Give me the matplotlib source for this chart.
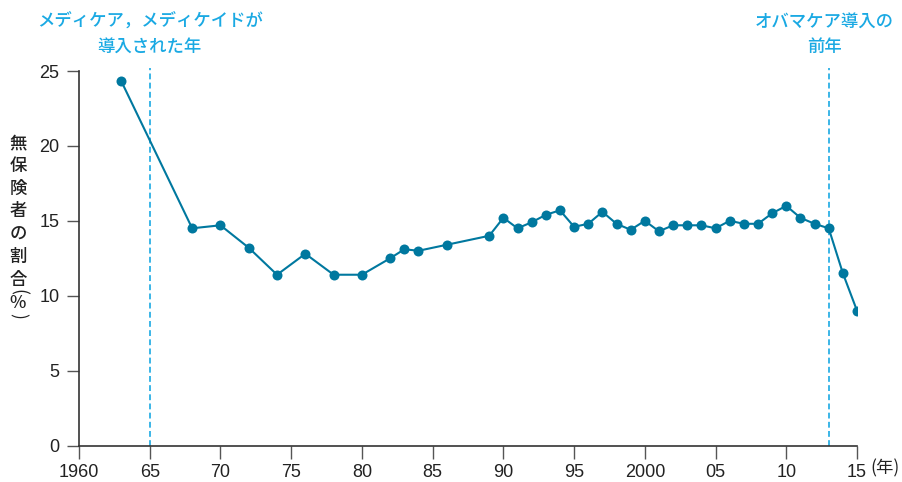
import matplotlib
matplotlib.use("Agg")
import matplotlib.pyplot as plt

plt.rcParams['font.family'] = ['Liberation Sans', 'Noto Sans CJK JP', 'DejaVu Sans']

# Share of population without health insurance, by year
years = [1963, 1968, 1970, 1972, 1974, 1976, 1978, 1980, 1982, 1983, 1984, 1986,
         1989, 1990, 1991, 1992, 1993, 1994, 1995, 1996, 1997, 1998, 1999, 2000,
         2001, 2002, 2003, 2004, 2005, 2006, 2007, 2008, 2009, 2010, 2011, 2012,
         2013, 2014, 2015]
uninsured = [24.3, 14.5, 14.7, 13.2, 11.4, 12.8, 11.4, 11.4, 12.5, 13.1, 13.0, 13.4,
             14.0, 15.2, 14.5, 14.9, 15.4, 15.7, 14.6, 14.8, 15.6, 14.8, 14.4, 15.0,
             14.3, 14.7, 14.7, 14.7, 14.5, 15.0, 14.8, 14.8, 15.5, 16.0, 15.2, 14.8,
             14.5, 11.5, 9.0]

x_ticks = [1960, 1965, 1970, 1975, 1980, 1985, 1990, 1995, 2000, 2005, 2010, 2015]
x_tick_labels = ['1960', '65', '70', '75', '80', '85', '90', '95', '2000', '05', '10', '15']
y_ticks = [0, 5, 10, 15, 20, 25]

events = [1965, 2013]
event_labels = [['メディケア，メディケイドが', '導入された年'], ['オバマケア導入の', '前年']]

line_color = '#00789f'
event_color = '#1aa9e3'
text_color = '#222222'
cjk = ['Noto Sans CJK JP', 'DejaVu Sans']

W, H = 903, 482
fig = plt.figure(figsize=(W / 100, H / 100), dpi=100)
ax = fig.add_axes([79 / W, 1 - 445.5 / H, (857 - 79) / W, (445.5 - 71) / H])

ax.plot(years, uninsured, color=line_color, lw=1.5, marker='o', ms=7.2,
        markeredgewidth=0, zorder=3)

ax.set_xlim(1960, 2015)
ax.set_ylim(0, 25)
ax.set_xticks(x_ticks)
ax.set_xticklabels(x_tick_labels)
ax.set_yticks(y_ticks)

for side in ('top', 'right'):
    ax.spines[side].set_visible(False)
for side in ('left', 'bottom'):
    ax.spines[side].set_color('#333333')
    ax.spines[side].set_linewidth(1.2)
ax.tick_params(axis='both', colors='#555555', labelcolor=text_color, labelsize=13,
               width=1.0, length=9, direction='out')
ax.tick_params(axis='x', pad=4)
ax.tick_params(axis='y', pad=5)

# dashed event lines, each with its note above the plotting area
for yr, lines in zip(events, event_labels):
    ax.axvline(yr, ymin=0, ymax=1.008, color=event_color, lw=1.2,
               ls=(0, (3.5, 2)), clip_on=False, zorder=2)
    fx = ax.transData.transform((yr, 0))[0] / W
    if yr == events[1]:
        fx -= 4 / W
    for i, txt in enumerate(lines):
        fig.text(fx, 1 - (22 + 25 * i) / H, txt, ha='center', va='center',
                 fontsize=12.5, color=event_color, family=cjk, fontweight='medium')

# unit of the x axis, placed right after the last tick label
fig.text(870 / W, 1 - 468 / H, '(年)', ha='left', va='center', fontsize=12.5,
         family=cjk, color=text_color)

# vertical y-axis label, one character per position
ylab_chars = list('無保険者の割合')
for i, ch in enumerate(ylab_chars):
    fig.text(18 / W, 1 - (143 + 22.8 * i) / H, ch, ha='center', va='center',
             fontsize=12.5, family=cjk, color=text_color, fontweight='medium')
# parentheses turned for vertical writing
fig.text(18 / W, 1 - 292 / H, '(', ha='center', va='center', rotation=270,
         fontsize=12.5, family=cjk, color=text_color)
fig.text(18 / W, 1 - 303.5 / H, '%', ha='center', va='center',
         fontsize=12.5, family=cjk, color=text_color, fontweight='medium')
fig.text(18 / W, 1 - 316 / H, ')', ha='center', va='center', rotation=270,
         fontsize=12.5, family=cjk, color=text_color)

fig.savefig('out.png', dpi=100)
